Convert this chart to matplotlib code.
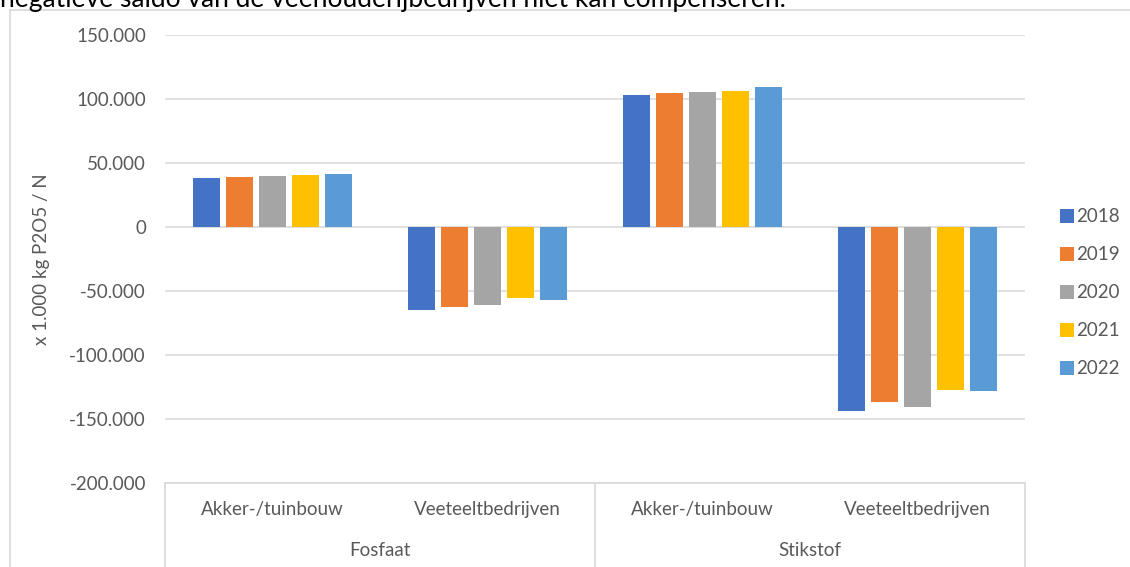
import matplotlib
matplotlib.use("Agg")
import matplotlib.pyplot as plt
from matplotlib.lines import Line2D
from matplotlib.ticker import FuncFormatter
import numpy as np

plt.rcParams['font.family'] = ['Lato', 'DejaVu Sans']

years = ['2018', '2019', '2020', '2021', '2022']
groups = ['Fosfaat', 'Stikstof']
sectors = ['Akker-/tuinbouw', 'Veeteeltbedrijven']
# values per category (Fosfaat Akker, Fosfaat Veeteelt, Stikstof Akker, Stikstof Veeteelt)
v2018 = [38500, -65100, 103300, -144000]
v2019 = [39300, -62500, 104600, -137000]
v2020 = [40100, -60700, 105400, -140600]
v2021 = [40900, -55700, 106500, -127600]
v2022 = [41700, -57000, 109600, -128100]
series = [v2018, v2019, v2020, v2021, v2022]
colors = ['#4472C4', '#ED7D31', '#A5A5A5', '#FFC000', '#5B9BD5']
yticks = [-200000, -150000, -100000, -50000, 0, 50000, 100000, 150000]
ylabel = 'x 1.000 kg P2O5 / N'
header = 'negatieve saldo van de veehouderijbedrijven niet kan compenseren.'

W, H = 1130, 567
fig = plt.figure(figsize=(W / 100, H / 100), dpi=100)
fig.patch.set_facecolor('white')

L, R, T, B = 165, 1025, 35, 483
ax = fig.add_axes([L / W, 1 - B / H, (R - L) / W, (B - T) / H])

grey = '#D9D9D9'
tc = '#595959'
fs = 13.5

x = np.arange(4)
bw = 0.121
step = 0.1535
for i, (vals, c, yr) in enumerate(zip(series, colors, years)):
    ax.bar(x + (i - 2) * step, vals, width=bw, color=c, label=yr, zorder=3)

ax.set_xlim(-0.5, 3.5)
ax.set_ylim(-200000, 150000)
ax.set_yticks(yticks)
ax.yaxis.set_major_formatter(FuncFormatter(lambda v, p: '0' if v == 0 else f'{int(v):,}'.replace(',', '.')))
ax.grid(axis='y', color=grey, linewidth=1.2, zorder=0)
ax.set_xticks([])
for s in ['top', 'right', 'left']:
    ax.spines[s].set_visible(False)
ax.spines['bottom'].set_color(grey)
ax.spines['bottom'].set_linewidth(1.2)
ax.tick_params(axis='y', length=0, pad=13.7, labelsize=fs, labelcolor=tc)

ax.set_ylabel(ylabel, fontsize=fs, color=tc)
ax.yaxis.set_label_coords((50 - L) / (R - L), 0.5)

# category labels
trans = ax.get_xaxis_transform()
for j in range(4):
    ax.text(x[j], -(510 - B) / (B - T), sectors[j % 2], transform=trans,
            ha='center', va='center', fontsize=fs, color=tc)
for g in range(2):
    ax.text(2 * g + 0.5, -(550 - B) / (B - T), groups[g], transform=trans,
            ha='center', va='center', fontsize=fs, color=tc)
for xv in [-0.5, 1.5, 3.5]:
    ax.plot([xv, xv], [0, -(H - B) / (B - T)], transform=trans, color=grey,
            linewidth=1.2, clip_on=False)

# chart frame
fig.add_artist(Line2D([10 / W, 10 / W], [0, 1 - 10 / H], color=grey, linewidth=1.2))
fig.add_artist(Line2D([10 / W, 1], [1 - 10 / H, 1 - 10 / H], color=grey, linewidth=1.2))

# header text from surrounding document (cut off at top, as in the source)
fig.text(0.0, 1 - 7 / H, header, ha='left', va='baseline', fontsize=19, color='black')

leg = fig.legend(loc='center left', bbox_to_anchor=(1051 / W, 1 - 293 / H),
                 frameon=False, fontsize=fs, handlelength=0.7, handleheight=0.7,
                 handletextpad=0.15, labelspacing=1.12, borderpad=0)
for t in leg.get_texts():
    t.set_color(tc)

fig.savefig('out.png', dpi=100, facecolor='white')
